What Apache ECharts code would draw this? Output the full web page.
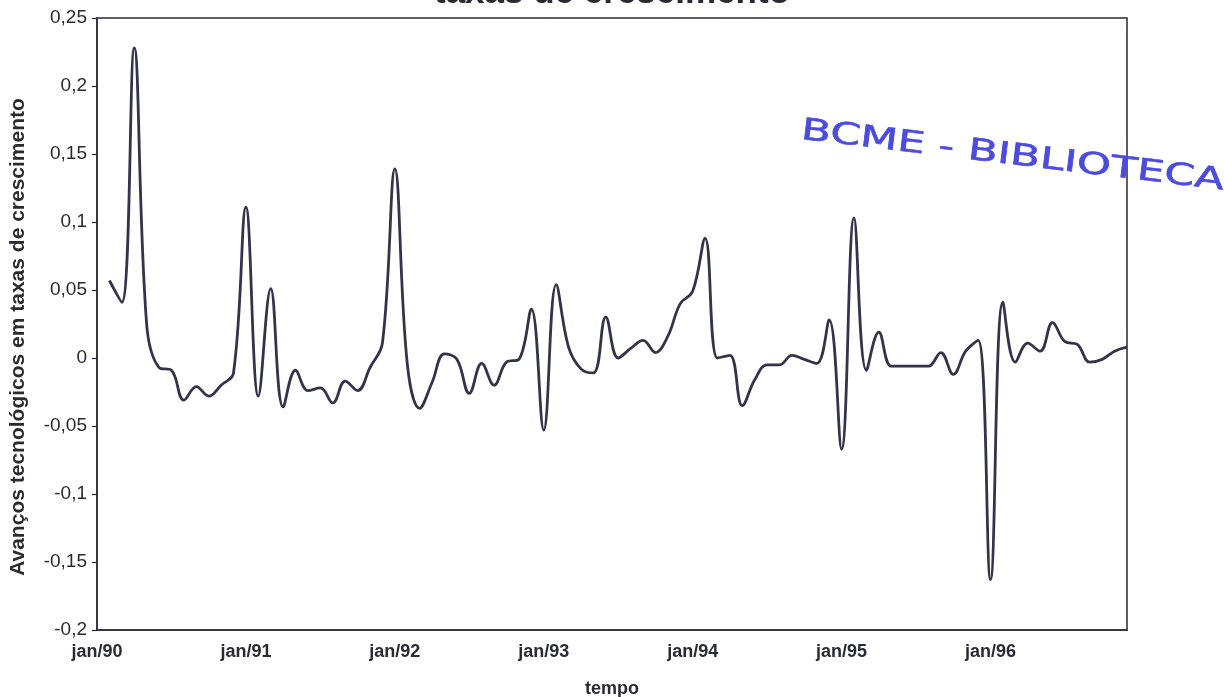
<!DOCTYPE html>
<html>
<head>
<meta charset="utf-8">
<script src="https://cdn.jsdelivr.net/npm/echarts@6/dist/echarts.min.js"></script>
<style>
html,body{margin:0;padding:0;background:#fff;}
#chart{width:1224px;height:697px;}
</style>
</head>
<body>
<div id="chart"></div>
<script>
// month index (0 = jan/90), growth-rate series starts fev/90
var monthIndex = [];
for (var m = 1; m <= 83; m++) monthIndex.push(m);

var avancos = [
  0.057, 0.041, 0.228, 0.025, -0.007, -0.009, -0.031, -0.021, -0.028, -0.020, -0.011,
  0.111, -0.028, 0.051, -0.036, -0.009, -0.024, -0.022, -0.033, -0.017, -0.024, -0.007, 0.011,
  0.139, -0.004, -0.037, -0.018, 0.003, -0.001, -0.026, -0.004, -0.020, -0.003, -0.001, 0.036,
  -0.053, 0.054, 0.008, -0.008, -0.011, 0.030, 0.000, 0.007, 0.013, 0.004, 0.016, 0.040,
  0.049, 0.088, 0.000, 0.002, -0.035, -0.016, -0.005, -0.005, 0.002, -0.001, -0.004, 0.028,
  -0.067, 0.103, -0.009, 0.019, -0.006, -0.006, -0.006, -0.006, 0.004, -0.012, 0.005, 0.013,
  -0.163, 0.041, -0.003, 0.011, 0.005, 0.026, 0.012, 0.010, -0.003, -0.001, 0.005, 0.008
];

var xTickLabels = ['jan/90', 'jan/91', 'jan/92', 'jan/93', 'jan/94', 'jan/95', 'jan/96'];

var titleText = 'taxas de crescimento';
var yAxisName = 'Avanços tecnológicos em taxas de crescimento';
var xAxisName = 'tempo';
var stampText = 'BCME - BIBLIOTECA';

var seriesData = monthIndex.map(function (m, k) { return [m, avancos[k]]; });

var chart = echarts.init(document.getElementById('chart'), null, {renderer: 'canvas'});
var fontFam = '"Liberation Sans", Arial, sans-serif';
chart.setOption({
  animation: false,
  backgroundColor: '#ffffff',
  title: {
    text: titleText,
    left: 'center',
    top: -29,
    textStyle: {fontFamily: fontFam, fontSize: 35, fontWeight: 'bold', color: '#2a2a35'}
  },
  grid: {
    left: 97, right: 97, top: 18, bottom: 67,
    containLabel: false,
    outerBoundsMode: 'none',
    show: true, borderColor: '#2a2a3a', borderWidth: 1.5, backgroundColor: '#fff'
  },
  xAxis: {
    type: 'value',
    min: 0, max: 83, interval: 12,
    name: xAxisName,
    nameLocation: 'middle',
    nameGap: 50,
    nameTextStyle: {fontFamily: fontFam, fontSize: 18, fontWeight: 'bold', color: '#2a2a35'},
    axisLine: {show: true, onZero: false, lineStyle: {color: '#2a2a3a', width: 1.5}},
    axisTick: {show: false},
    splitLine: {show: false},
    axisLabel: {
      margin: 13,
      fontFamily: fontFam, fontSize: 18, fontWeight: 'bold', color: '#2a2a35',
      formatter: function (v) { var k = Math.round(v / 12); return xTickLabels[k] || ''; },
      showMaxLabel: false
    }
  },
  yAxis: {
    type: 'value',
    min: -0.2, max: 0.25, interval: 0.05,
    axisLine: {show: true, onZero: false, lineStyle: {color: '#2a2a3a', width: 1.5}},
    axisTick: {show: true, length: 5, lineStyle: {color: '#2a2a3a', width: 1.2}},
    splitLine: {show: false},
    axisLabel: {
      margin: 10,
      fontFamily: fontFam, fontSize: 19, color: '#2a2a35',
      formatter: function (v) { return String(Number(v.toFixed(2))).replace('.', ','); }
    }
  },
  graphic: [{
    type: 'text',
    x: 18, y: 337,
    rotation: Math.PI / 2,
    style: {
      text: yAxisName,
      align: 'center', verticalAlign: 'middle',
      textAlign: 'center', textVerticalAlign: 'middle',
      font: 'bold 21px "Liberation Sans", Arial, sans-serif',
      fill: '#2a2a35'
    }
  }, {
    type: 'text',
    x: 803, y: 116,
    rotation: -0.12,
    scaleX: 1.45,
    style: {
      text: stampText,
      font: '30px "DejaVu Sans", sans-serif',
      fill: '#4b4be0',
      stroke: '#4b4be0',
      lineWidth: 0.6
    }
  }],
  series: [{
    type: 'line',
    data: seriesData,
    smooth: 0.4,
    symbol: 'none',
    lineStyle: {color: '#33334a', width: 2.8}
  }]
});
</script>
</body>
</html>
